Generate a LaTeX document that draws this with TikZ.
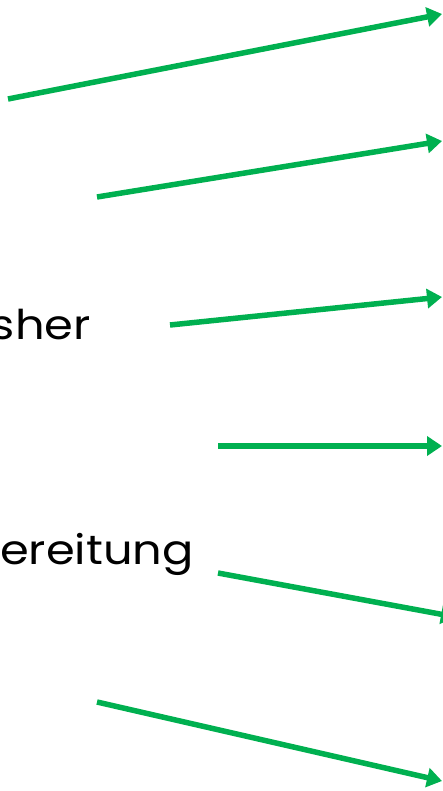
\documentclass[tikz,border=0pt]{standalone}
\usepackage{fontspec}
\setmainfont{Poppins}[FakeStretch=1.13]
\usetikzlibrary{arrows.meta}
\definecolor{arrowgreen}{HTML}{00B050}
\tikzset{
  greenarrow/.style={draw=arrowgreen, line width=5.5pt, -{Triangle[length=15pt,width=19pt]}},
  cuttext/.style={anchor=base east, inner sep=0pt, font=\fontsize{41}{46}\selectfont}
}
\begin{document}
\begin{tikzpicture}[x=1pt,y=-1pt]
\useasboundingbox (0,0) rectangle (442,791);
\node[cuttext] (t1) at (91,339) {sher};
\node[cuttext] (t2) at (194,564) {ereitung};
\coordinate (a1s) at (8,99);   \coordinate (a1e) at (442,14);
\coordinate (a2s) at (97,197); \coordinate (a2e) at (442,141);
\coordinate (a3s) at (170,325);\coordinate (a3e) at (442,297);
\coordinate (a4s) at (218,446);\coordinate (a4e) at (442,446);
\coordinate (a5s) at (218,573);\coordinate (a5e) at (456,617);
\coordinate (a6s) at (97,702); \coordinate (a6e) at (442,781);
\draw[greenarrow] (a1s) -- (a1e);
\draw[greenarrow] (a2s) -- (a2e);
\draw[greenarrow] (a3s) -- (a3e);
\draw[greenarrow] (a4s) -- (a4e);
\draw[greenarrow] (a5s) -- (a5e);
\draw[greenarrow] (a6s) -- (a6e);
\end{tikzpicture}
\end{document}
